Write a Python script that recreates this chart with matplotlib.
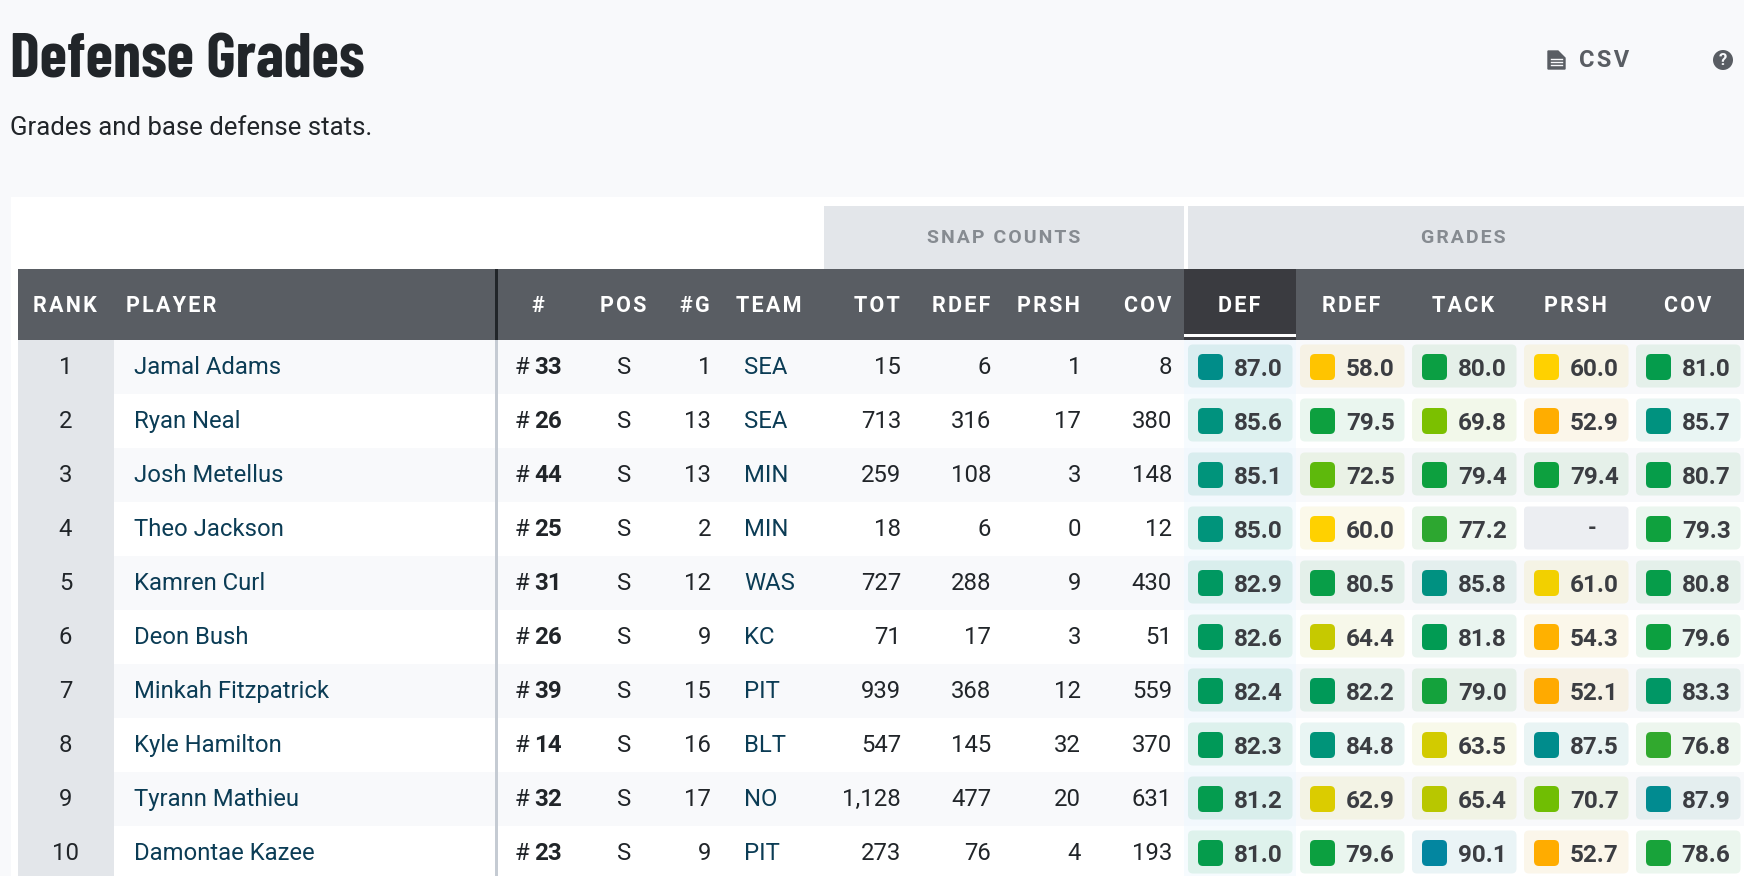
import matplotlib
matplotlib.use('Agg')
import matplotlib.pyplot as plt
from matplotlib.patches import Rectangle, FancyBboxPatch, Circle, Polygon
from matplotlib.colors import LinearSegmentedColormap, to_rgb

# data
ranks = [1, 2, 3, 4, 5, 6, 7, 8, 9, 10]
players = ['Jamal Adams', 'Ryan Neal', 'Josh Metellus', 'Theo Jackson', 'Kamren Curl',
           'Deon Bush', 'Minkah Fitzpatrick', 'Kyle Hamilton', 'Tyrann Mathieu', 'Damontae Kazee']
jersey = [33, 26, 44, 25, 31, 26, 39, 14, 32, 23]
pos = ['S'] * 10
games = [1, 13, 13, 2, 12, 9, 15, 16, 17, 9]
teams = ['SEA', 'SEA', 'MIN', 'MIN', 'WAS', 'KC', 'PIT', 'BLT', 'NO', 'PIT']
snap_tot = ['15', '713', '259', '18', '727', '71', '939', '547', '1,128', '273']
snap_rdef = [6, 316, 108, 6, 288, 17, 368, 145, 477, 76]
snap_prsh = [1, 17, 3, 0, 9, 3, 12, 32, 20, 4]
snap_cov = [8, 380, 148, 12, 430, 51, 559, 370, 631, 193]
grade_def = [87.0, 85.6, 85.1, 85.0, 82.9, 82.6, 82.4, 82.3, 81.2, 81.0]
grade_rdef = [58.0, 79.5, 72.5, 60.0, 80.5, 64.4, 82.2, 84.8, 62.9, 79.6]
grade_tack = [80.0, 69.8, 79.4, 77.2, 85.8, 81.8, 79.0, 63.5, 65.4, 90.1]
grade_prsh = [60.0, 52.9, 79.4, None, 61.0, 54.3, 52.1, 87.5, 70.7, 52.7]
grade_cov = [81.0, 85.7, 80.7, 79.3, 80.8, 79.6, 83.3, 76.8, 87.9, 78.6]
grades = [grade_def, grade_rdef, grade_tack, grade_prsh, grade_cov]
grade_names = ['DEF', 'RDEF', 'TACK', 'PRSH', 'COV']
snap_names = ['TOT', 'RDEF', 'PRSH', 'COV']

# grade colour scale
g_lo, g_hi = 50.0, 92.0
stops = [(50, '#ffa500'), (54, '#ffb000'), (58, '#ffc400'), (60, '#ffd200'), (63, '#d9cc00'),
         (65, '#bcc800'), (70, '#78c000'), (72.5, '#5fb90b'), (77, '#2fa82f'), (79.5, '#0da03f'),
         (82, '#009a55'), (85, '#00947a'), (87.5, '#008c8c'), (92, '#0582ae')]
cmap = LinearSegmentedColormap.from_list('grades', [((v - g_lo) / (g_hi - g_lo), c) for v, c in stops])

BG = '#f8f9fb'
HEAD = '#595d63'
INK = '#212529'
ROW_H = 54
TOP = 340
GRADE_W = 112.0
GRADE_X0 = 1183.5
HAIR = '\u200a'

plt.rcParams['font.family'] = ['Roboto', 'DejaVu Sans']
fig = plt.figure(figsize=(17.44, 8.76), dpi=100, facecolor=BG)
ax = fig.add_axes([0, 0, 1, 1])
ax.set_xlim(0, 1744)
ax.set_ylim(876, 0)
ax.axis('off')


def mix(c, amount, base):
    c, base = to_rgb(c), to_rgb(base)
    return tuple(amount * a + (1 - amount) * b for a, b in zip(c, base))


def rbox(x, y, w, h, r, color, z=3):
    ax.add_patch(FancyBboxPatch((x + r, y + r), w - 2 * r, h - 2 * r, boxstyle='round,pad=%f,rounding_size=%f' % (r, r),
                                fc=color, ec='none', zorder=z))


def spaced(s):
    return HAIR.join(s)


# title
ax.text(10, 60.5, 'Defense Grades', family=['Barlow Condensed', 'Roboto'], weight='bold', fontsize=45,
        color=INK, va='center', ha='left')
ax.text(10, 128, 'Grades and base defense stats.', fontsize=18.5, color=INK, va='center', ha='left')

# csv + help icons
ax.add_patch(Polygon([(1548, 51), (1558, 51), (1565, 58), (1565, 69), (1548, 69)], fc=HEAD, ec=HEAD, lw=1, zorder=3))
for yy in [59, 62, 65]:
    ax.plot([1551, 1562], [yy, yy], color=BG, lw=1, zorder=4)
ax.text(1579, 60.5, spaced('CSV'), fontsize=17, weight='bold', color=HEAD, va='center', ha='left')
ax.add_patch(Circle((1723, 60), 10, fc=HEAD, ec='none', zorder=3))
ax.text(1723, 60.5, '?', fontsize=12, weight='bold', color=BG, va='center', ha='center', zorder=4)

# table panel
ax.add_patch(Rectangle((11, 197), 1733, 679, fc='white', ec='none', zorder=1))
ax.add_patch(Rectangle((824, 206), 360, 63, fc='#e3e6ea', ec='none', zorder=2))
ax.add_patch(Rectangle((1188, 206), 556, 63, fc='#e3e6ea', ec='none', zorder=2))
ax.text(1004, 238, spaced('SNAP COUNTS'), fontsize=14, weight='bold', color='#868b91', va='center', ha='center', zorder=3)
ax.text(1463, 238, spaced('GRADES'), fontsize=14, weight='bold', color='#868b91', va='center', ha='center', zorder=3)

# header
ax.add_patch(Rectangle((18, 269), 1726, 71, fc=HEAD, ec='none', zorder=2))
ax.add_patch(Rectangle((494.5, 269), 3, 71, fc=INK, ec='none', zorder=3))
ax.add_patch(Rectangle((GRADE_X0, 269), GRADE_W, 71, fc='#3a3b40', ec='none', zorder=3))
ax.add_patch(Rectangle((GRADE_X0, 333.5), GRADE_W, 3.5, fc='white', ec='none', zorder=4))


def head(x, label, ha='center'):
    ax.text(x, 306, spaced(label), fontsize=15.5, weight='bold', color='white', va='center', ha=ha, zorder=5)


head(64.5, 'RANK')
head(126, 'PLAYER', 'left')
head(538, '#')
head(623.5, 'POS')
head(710, '#G', 'right')
head(736, 'TEAM', 'left')
snap_right = [901, 991, 1081, 1172]
for x, name in zip(snap_right, snap_names):
    head(x - 1, name, 'right')
for k, name in enumerate(grade_names):
    head(GRADE_X0 + GRADE_W * (k + 0.5), name)

# rows
for i in range(len(players)):
    y0 = TOP + i * ROW_H
    yc = y0 + ROW_H / 2
    row_bg = BG if i % 2 == 0 else 'white'
    ax.add_patch(Rectangle((18, y0), 1726, ROW_H, fc=row_bg, ec='none', zorder=1.5))
    ax.add_patch(Rectangle((18, y0), 96, ROW_H, fc='#e3e6ea', ec='none', zorder=2))
    ax.add_patch(Rectangle((494.5, y0), 3, ROW_H, fc='#c5cbd3', ec='none', zorder=2))
    ax.add_patch(Rectangle((GRADE_X0, y0), GRADE_W, ROW_H, fc='#f2f8fd' if i % 2 == 0 else '#f6fbfe', ec='none', zorder=2))

    def cell(x, s, ha='right', size=17.2, **kw):
        kw.setdefault('color', INK)
        ax.text(x, yc - 2, s, fontsize=size, va='center_baseline', ha=ha, zorder=5, **kw)

    cell(65.5, str(ranks[i]), 'center')
    cell(134, players[i], 'left', color='#0b3c55')
    cell(529, '#', 'right')
    cell(534.5, str(jersey[i]), 'left', size=17.4, weight='bold')
    cell(624, pos[i], 'center')
    cell(711, str(games[i]))
    cell(744, teams[i], 'left', color='#0b3c55')
    cell(snap_right[0], snap_tot[i])
    cell(snap_right[1], str(snap_rdef[i]))
    cell(snap_right[2], str(snap_prsh[i]))
    cell(snap_right[3], str(snap_cov[i]))

    for k, col in enumerate(grades):
        if k == 0:
            base = '#e9f4f8' if i % 2 == 0 else '#eef8f8'
        else:
            base = '#f5f6f6' if i % 2 == 0 else '#fbfcfc'
        bx = GRADE_X0 + GRADE_W * k + 4.5
        bw = GRADE_W - 7.5
        by = yc - 22.5
        v = col[i]
        if v is None:
            rbox(bx, by, bw, 43, 4, '#eceef2')
            ax.text(bx + bw - 36, yc, '-', fontsize=16, weight='bold', color='#3b3d42', va='center', ha='center', zorder=5)
            continue
        c = cmap((v - g_lo) / (g_hi - g_lo))[:3]
        rbox(bx, by, bw, 43, 5, mix(c, 0.07, base))
        rbox(bx + 10, yc - 13, 25, 26, 5, c, z=4)
        ax.text(bx + bw - 10, yc, '%.1f' % v, fontsize=17.5, weight='bold', color='#3b3d42',
                va='center_baseline', ha='right', zorder=5)

fig.savefig('out.png', dpi=100, facecolor=BG)
